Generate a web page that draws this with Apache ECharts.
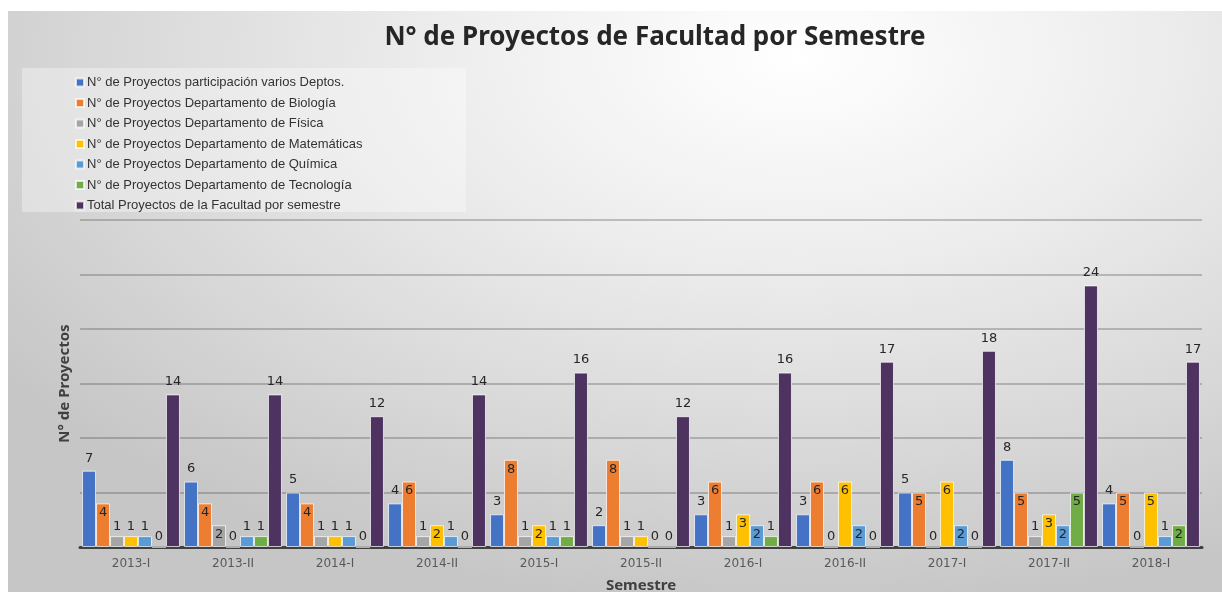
<!DOCTYPE html>
<html>
<head>
<meta charset="utf-8">
<script src="https://cdn.jsdelivr.net/npm/echarts@6/dist/echarts.min.js"></script>
<style>
  html, body { margin: 0; padding: 0; background: #fff; }
  #bg {
    position: absolute; left: 8px; top: 11px; width: 1214px; height: 581px;
    background: radial-gradient(ellipse 80% 95% at 65% 8%, #ffffff 0%, #eeeeee 35%, #d9d9d9 70%, #c6c6c6 100%);
  }
  #chart { position: absolute; left: 0; top: 0; width: 1222px; height: 592px; }
</style>
</head>
<body>
<div id="bg"></div>
<div id="chart"></div>
<script>
const semestres = ["2013-I", "2013-II", "2014-I", "2014-II", "2015-I", "2015-II", "2016-I", "2016-II", "2017-I", "2017-II", "2018-I"];

const variosDeptos = [7, 6, 5, 4, 3, 2, 3, 3, 5, 8, 4];
const biologia = [4, 4, 4, 6, 8, 8, 6, 6, 5, 5, 5];
const fisica = [1, 2, 1, 1, 1, 1, 1, 0, 0, 1, 0];
const matematicas = [1, 0, 1, 2, 2, 1, 3, 6, 6, 3, 5];
const quimica = [1, 1, 1, 1, 1, 0, 2, 2, 2, 2, 1];
const tecnologia = [0, 1, 0, 0, 1, 0, 1, 0, 0, 5, 2];
const totalFacultad = [14, 14, 12, 14, 16, 12, 16, 17, 18, 24, 17];

const seriesNames = [
  "N° de Proyectos participación varios Deptos.",
  "N° de Proyectos Departamento de Biología",
  "N° de Proyectos Departamento de Física",
  "N° de Proyectos Departamento de Matemáticas",
  "N° de Proyectos Departamento de Química",
  "N° de Proyectos Departamento de Tecnología",
  "Total Proyectos de la Facultad por semestre",
];
const colors = ["#4472C4", "#ED7D31", "#A5A5A5", "#FFC000", "#5B9BD5", "#70AD47", "#4E3360"];
const allData = [variosDeptos, biologia, fisica, matematicas, quimica, tecnologia, totalFacultad];

const labelFont = { fontFamily: "DejaVu Sans", fontSize: 13, color: "#262626" };

// small values sit above the bar, larger ones inside the top (like the excel chart)
function buildSeries(i) {
  const outside = i === 0 || i === 6;
  return {
    name: seriesNames[i],
    type: "bar",
    barGap: 0,
    barCategoryGap: "4%",
    itemStyle: { color: colors[i], borderColor: "rgba(255,255,255,0.7)", borderWidth: 1 },
    data: allData[i].map((v) => ({
      value: v,
      label: { position: outside || v < 2 ? "top" : "insideTop", distance: outside ? 6 : 3 },
    })),
    label: Object.assign({ show: true }, labelFont),
    animation: false,
  };
}

const chart = echarts.init(document.getElementById("chart"));
chart.setOption({
  backgroundColor: "transparent",
  color: colors,
  title: {
    text: "N° de Proyectos de Facultad por Semestre",
    left: 650,
    top: 20,
    textAlign: "center",
    textStyle: { fontFamily: "Noto Sans", fontWeight: "bold", fontSize: 26, color: "#262626" },
  },
  graphic: [
    {
      type: "rect",
      left: 22,
      top: 68,
      shape: { width: 444, height: 144 },
      style: { fill: "rgba(255,255,255,0.35)" },
      z: -1,
    },
  ],
  legend: {
    orient: "vertical",
    left: 70,
    top: 71,
    itemWidth: 8,
    itemHeight: 8,
    itemGap: 7.5,
    icon: "rect",
    textStyle: { fontFamily: "Liberation Sans Narrow, Liberation Sans", fontSize: 13, color: "#333", padding: [0, 0, 0, -2] },
  },
  grid: { left: 80, right: 20, top: 220, bottom: 45, outerBoundsMode: "none", containLabel: false },
  xAxis: {
    type: "category",
    data: semestres,
    axisLine: { lineStyle: { color: "#404040", width: 3 } },
    axisTick: { show: false },
    axisLabel: { fontFamily: "DejaVu Sans", fontSize: 12, color: "#595959", margin: 11 },
    name: "Semestre",
    nameLocation: "middle",
    nameGap: 31,
    nameTextStyle: { fontFamily: "Noto Sans", fontWeight: "bold", fontSize: 15, color: "#404040" },
  },
  yAxis: {
    type: "value",
    min: 0,
    max: 30,
    interval: 5,
    axisLabel: { show: false },
    axisLine: { show: false },
    axisTick: { show: false },
    splitLine: { lineStyle: { color: "rgba(70,70,70,0.4)", width: 1.5 } },
    name: "N° de Proyectos",
    nameLocation: "middle",
    nameRotate: 90,
    nameGap: 8,
    nameTextStyle: { fontFamily: "Noto Sans", fontWeight: "bold", fontSize: 15, color: "#404040" },
  },
  series: allData.map((d, i) => buildSeries(i)),
});
</script>
</body>
</html>
